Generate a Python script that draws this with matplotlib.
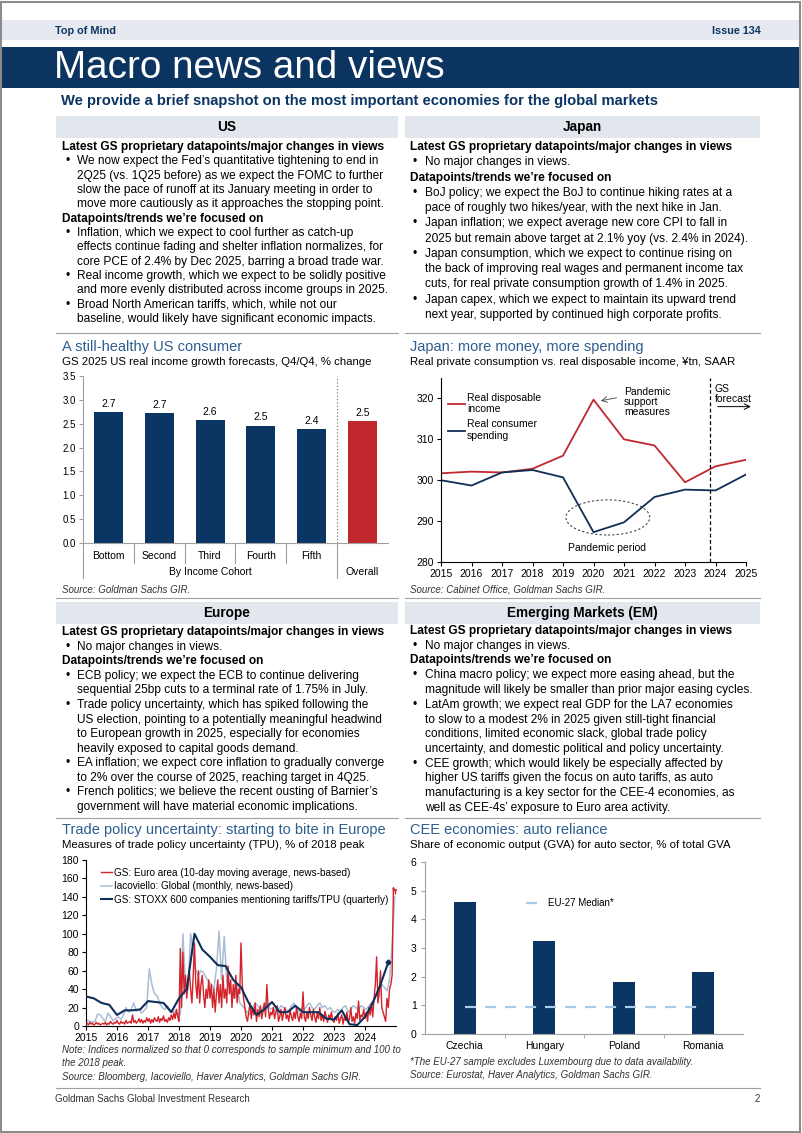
import matplotlib
matplotlib.use("Agg")
import matplotlib.pyplot as plt
from matplotlib.patches import Rectangle, Ellipse
from matplotlib.lines import Line2D
import numpy as np

# ---- data ----
us_cohorts = ["Bottom", "Second", "Third", "Fourth", "Fifth", "Overall"]
us_growth = [2.74, 2.72, 2.58, 2.46, 2.38, 2.55]
us_labels = ["2.7", "2.7", "2.6", "2.5", "2.4", "2.5"]

jp_years = [2015, 2016, 2017, 2018, 2019, 2020, 2021, 2022, 2023, 2024, 2025]
jp_income = [301.7, 302.1, 301.9, 302.8, 306.0, 319.7, 310.0, 308.5, 299.5, 303.4, 305.0]
jp_spending = [300.0, 298.7, 301.9, 302.5, 300.7, 287.3, 289.7, 295.9, 297.7, 297.5, 301.4]

# GS Euro area TPU, twice a month, 2015-2024
tpu_euro = [
    2, 3, 1, 4, 2, 3, 1, 2, 4, 2, 3, 1, 2, 3, 2, 4, 1, 3, 2, 5, 3, 2, 4, 3,
    6, 3, 2, 5, 3, 4, 2, 6, 3, 4, 5, 3, 12, 4, 6, 3, 5, 8, 4, 7, 3, 6, 4, 9,
    5, 8, 3, 7, 4, 9, 6, 5, 10, 4, 8, 6, 11, 5, 7, 4, 9, 6, 12, 7, 14, 8, 18, 10,
    5, 84, 20, 80, 35, 55, 30, 45, 60, 40, 25, 55, 90, 45, 30, 60, 25, 45, 55, 35, 20, 40, 30, 50,
    30, 45, 20, 40, 15, 35, 50, 25, 45, 20, 55, 30, 40, 25, 65, 35, 50, 20, 45, 30, 55, 25, 40, 35,
    90, 45, 30, 20, 10, 5, 15, 25, 8, 20, 12, 25, 5, 18, 10, 22, 8, 15, 25, 10, 45, 20, 8, 15,
    12, 20, 8, 15, 22, 5, 10, 18, 6, 14, 20, 8, 12, 5, 18, 10, 6, 15, 8, 20, 10, 5, 14, 8,
    37, 10, 5, 15, 8, 20, 12, 6, 18, 10, 4, 14, 8, 20, 6, 12, 5, 16, 10, 4, 12, 8, 15, 6,
    4, 10, 6, 14, 3, 8, 12, 2, 10, 6, 15, 4, 8, 20, 5, 10, 3, 14, 8, 27, 6, 12, 10, 18,
    8, 15, 5, 20, 12, 25, 10, 30, 45, 75, 25, 35, 60, 20, 15, 10, 5, 30, 20, 40, 45, 55, 150, 147,
]
# Iacoviello global TPU, monthly, 2015-2024
tpu_global = [
    6, 5, 4, 5, 13, 12, 8, 5, 14, 10, 6, 8,
    10, 7, 12, 20, 15, 18, 25, 16, 18, 14, 17, 20,
    62, 45, 35, 33, 25, 20, 18, 22, 18, 15, 16, 14,
    12, 100, 45, 40, 100, 80, 60, 55, 60, 58, 52, 48,
    45, 40, 62, 103, 50, 97, 48, 42, 35, 30, 45, 25,
    22, 18, 15, 12, 20, 25, 22, 18, 20, 25, 22, 18,
    20, 15, 18, 22, 20, 18, 15, 22, 25, 18, 15, 20,
    18, 22, 25, 20, 18, 22, 25, 20, 22, 18, 20, 16,
    15, 18, 15, 20, 22, 15, 18, 22, 20, 18, 22, 20,
    18, 22, 25, 30, 35, 40, 45, 42, 38, 50, 90, 140,
]
# STOXX 600 companies mentioning tariffs/TPU, quarterly 2015Q1-2024Q4
tpu_stoxx = [
    32, 30, 25, 23, 12, 17, 17, 18, 27, 26, 25, 15,
    30, 40, 100, 83, 75, 66, 65, 50, 42, 25, 12, 18,
    26, 15, 15, 22, 15, 15, 15, 8, 7, 17, 2, 1,
    10, 25, 45, 69,
]

cee_countries = ["Czechia", "Hungary", "Poland", "Romania"]
cee_auto_share = [4.62, 3.25, 1.82, 2.17]
eu27_median = 0.95

us_text = [
    "H:Latest GS proprietary datapoints/major changes in views",
    "* We now expect the Fed\u2019s quantitative tightening to end in",
    "  2Q25 (vs. 1Q25 before) as we expect the FOMC to further",
    "  slow the pace of runoff at its January meeting in order to",
    "  move more cautiously as it approaches the stopping point.",
    "H:Datapoints/trends we\u2019re focused on",
    "* Inflation, which we expect to cool further as catch-up",
    "  effects continue fading and shelter inflation normalizes, for",
    "  core PCE of 2.4% by Dec 2025, barring a broad trade war.",
    "* Real income growth, which we expect to be solidly positive",
    "  and more evenly distributed across income groups in 2025.",
    "* Broad North American tariffs, which, while not our",
    "  baseline, would likely have significant economic impacts.",
]
japan_text = [
    "H:Latest GS proprietary datapoints/major changes in views",
    "* No major changes in views.",
    "H:Datapoints/trends we\u2019re focused on",
    "* BoJ policy; we expect the BoJ to continue hiking rates at a",
    "  pace of roughly two hikes/year, with the next hike in Jan.",
    "* Japan inflation; we expect average new core CPI to fall in",
    "  2025 but remain above target at 2.1% yoy (vs. 2.4% in 2024).",
    "* Japan consumption, which we expect to continue rising on",
    "  the back of improving real wages and permanent income tax",
    "  cuts, for real private consumption growth of 1.4% in 2025.",
    "* Japan capex, which we expect to maintain its upward trend",
    "  next year, supported by continued high corporate profits.",
]
europe_text = [
    "H:Latest GS proprietary datapoints/major changes in views",
    "* No major changes in views.",
    "H:Datapoints/trends we\u2019re focused on",
    "* ECB policy; we expect the ECB to continue delivering",
    "  sequential 25bp cuts to a terminal rate of 1.75% in July.",
    "* Trade policy uncertainty, which has spiked following the",
    "  US election, pointing to a potentially meaningful headwind",
    "  to European growth in 2025, especially for economies",
    "  heavily exposed to capital goods demand.",
    "* EA inflation; we expect core inflation to gradually converge",
    "  to 2% over the course of 2025, reaching target in 4Q25.",
    "* French politics; we believe the recent ousting of Barnier\u2019s",
    "  government will have material economic implications.",
]
em_text = [
    "H:Latest GS proprietary datapoints/major changes in views",
    "* No major changes in views.",
    "H:Datapoints/trends we\u2019re focused on",
    "* China macro policy; we expect more easing ahead, but the",
    "  magnitude will likely be smaller than prior major easing cycles.",
    "* LatAm growth; we expect real GDP for the LA7 economies",
    "  to slow to a modest 2% in 2025 given still-tight financial",
    "  conditions, limited economic slack, global trade policy",
    "  uncertainty, and domestic political and policy uncertainty.",
    "* CEE growth; which would likely be especially affected by",
    "  higher US tariffs given the focus on auto tariffs, as auto",
    "  manufacturing is a key sector for the CEE-4 economies, as",
    "  well as CEE-4s\u2019 exposure to Euro area activity.",
]

# ---- style ----
NAVY = "#0b3563"
RED = "#c0282e"
LBLUE = "#a9bdd6"
TBLUE = "#2d5d8f"
HGRAY = "#e2e7ee"
LINEG = "#a0a0a0"
BODY = ["Liberation Sans", "DejaVu Sans"]
COND = ["Liberation Sans Narrow", "Liberation Sans", "DejaVu Sans"]
plt.rcParams["font.family"] = BODY

W, H = 802, 1133
fig = plt.figure(figsize=(W / 100, H / 100), dpi=100)


def fx(x):
    return x / W


def fy(y):
    return 1 - y / H


def add_ax(l, t, r, b):
    return fig.add_axes([l / W, 1 - b / H, (r - l) / W, (b - t) / H])


def rect(l, t, r, b, color):
    fig.patches.append(Rectangle((fx(l), fy(b)), (r - l) / W, (b - t) / H,
                                 transform=fig.transFigure, facecolor=color,
                                 edgecolor="none", zorder=0))


def hline(y, x0, x1, color=LINEG, lw=0.8):
    fig.add_artist(Line2D([fx(x0), fx(x1)], [fy(y), fy(y)], color=color, lw=lw,
                          transform=fig.transFigure))


def text_block(x, y0, y1, lines, size=8.6):
    step = (y1 - y0) / (len(lines) - 1)
    for i, s in enumerate(lines):
        y = fy(y0 + i * step)
        if s.startswith("H:"):
            fig.text(fx(x), y, s[2:], fontsize=size, weight="bold", va="center")
        elif s.startswith("*"):
            fig.text(fx(x + 3), y, "\u2022", fontsize=size, va="center")
            fig.text(fx(x + 15), y, s[2:], fontsize=size, va="center")
        else:
            fig.text(fx(x + 15), y, s[2:], fontsize=size, va="center")


def section_head(l, r, t, b, title):
    rect(l, t, r, b, HGRAY)
    fig.text(fx((l + r) / 2), fy((t + b) / 2), title, family=COND, weight="bold",
             fontsize=9.8, ha="center", va="center")


# page frame + header
fig.patches.append(Rectangle((0.001, 0.001), 0.997, 0.997, transform=fig.transFigure,
                             facecolor="none", edgecolor="#8c8c8c", lw=1.5))
rect(2, 20, 800, 40, "#e6e9ef")
fig.text(fx(55), fy(30.5), "Top of Mind", family=COND, weight="bold", fontsize=7.8,
         color=NAVY, va="center")
fig.text(fx(761), fy(30.5), "Issue 134", family=COND, weight="bold", fontsize=7.8,
         color=NAVY, va="center", ha="right")
rect(2, 47, 800, 88, "#0c3461")
fig.text(fx(54), fy(68), "Macro news and views", family=COND, fontsize=27.8,
         color="white", va="center")
fig.text(fx(61), fy(101), "We provide a brief snapshot on the most important economies for the global markets",
         family=COND, weight="bold", fontsize=10.6, color=NAVY, va="center")

# text sections
section_head(56, 398, 116, 138, "US")
section_head(405, 760, 116, 138, "Japan")
text_block(62, 147, 319, us_text)
text_block(410, 147, 315, japan_text)
hline(333, 56, 398)
hline(333, 405, 760)

section_head(56, 398, 602, 624, "Europe")
section_head(405, 760, 602, 624, "Emerging Markets (EM)")
text_block(62, 632, 807, europe_text)
text_block(410, 631, 808, em_text)
hline(598, 56, 398)
hline(598, 405, 760)
hline(818, 56, 398)
hline(818, 405, 760)
hline(1088, 56, 760)


def chart_titles(x, y, title, sub):
    fig.text(fx(x), fy(y), title, fontsize=10.5, color=TBLUE, va="center")
    fig.text(fx(x), fy(y + 15.5), sub, fontsize=8.2, va="center")


def note(x, y, s):
    fig.text(fx(x), fy(y), s, fontsize=7, style="italic", color="#333333", va="center")


# ---- US bar chart ----
chart_titles(62, 347, "A still-healthy US consumer",
             "GS 2025 US real income growth forecasts, Q4/Q4, % change")
ax = add_ax(83, 376, 388, 543)
xpos = np.arange(len(us_cohorts))
ax.bar(xpos, us_growth, width=0.57, color=[NAVY] * 5 + [RED])
for xi, v, lab in zip(xpos, us_growth, us_labels):
    ax.text(xi, v + 0.07, lab, ha="center", va="bottom", fontsize=7.5)
ax.set_xlim(-0.5, 5.5)
ax.set_ylim(0, 3.5)
ax.set_yticks(np.arange(0, 3.51, 0.5))
ax.set_yticklabels([f"{t:.1f}" for t in np.arange(0, 3.51, 0.5)], fontsize=7)
ax.set_xticks([])
ax.tick_params(axis="y", length=3, color=LINEG, pad=2)
for s in ["top", "right"]:
    ax.spines[s].set_visible(False)
for s in ["left", "bottom"]:
    ax.spines[s].set_color(LINEG)
ax.axvline(4.5, color="#666666", lw=0.8, ls=(0, (1, 2)))
tr = ax.get_xaxis_transform()
for xi, name in zip(xpos, us_cohorts):
    if name != "Overall":
        ax.text(xi, -0.075, name, transform=tr, ha="center", va="center", fontsize=7.5)
ax.text(2, -0.175, "By Income Cohort", transform=tr, ha="center", va="center", fontsize=7.5)
ax.text(5, -0.175, "Overall", transform=tr, ha="center", va="center", fontsize=7.5)
for xb in xpos[:-2] + 0.5:
    ax.plot([xb, xb], [0, -0.12], transform=tr, color=LINEG, lw=0.8, clip_on=False)
for xb in [-0.5, 4.5]:
    ax.plot([xb, xb], [0, -0.21], transform=tr, color=LINEG, lw=0.8, clip_on=False)
note(62, 590, "Source: Goldman Sachs GIR.")

# ---- Japan line chart ----
chart_titles(410, 347, "Japan: more money, more spending",
             "Real private consumption vs. real disposable income, \u00a5tn, SAAR")
ax2 = add_ax(441, 378, 746, 562)
ax2.plot(jp_years, jp_income, color=RED, lw=1.3, label="Real disposable\nincome")
ax2.plot(jp_years, jp_spending, color="#102d57", lw=1.3, label="Real consumer\nspending")
ax2.set_xlim(2015, 2025)
ax2.set_ylim(280, 325)
ax2.set_yticks(range(280, 321, 10))
ax2.set_xticks(jp_years)
ax2.tick_params(labelsize=7.5, length=3, pad=2)
for s in ["top", "right"]:
    ax2.spines[s].set_visible(False)
ax2.legend(loc="upper left", bbox_to_anchor=(0.0, 0.96), frameon=False, fontsize=7.5,
           handlelength=1.6, handletextpad=0.2, labelspacing=0.5, borderaxespad=0.3)
ax2.axvline(2023.83, color="black", lw=0.9, ls=(0, (3, 2)))
ax2.text(2023.98, 321.2, "GS\nforecast", fontsize=7.5, va="center", linespacing=1.0)
ax2.annotate("", xy=(2025.25, 318.0), xytext=(2023.98, 318.0),
             arrowprops=dict(arrowstyle="->", lw=0.7), annotation_clip=False)
ax2.text(2021.0, 319.2, "Pandemic\nsupport\nmeasures", fontsize=7.5, va="center", linespacing=1.0)
ax2.annotate("", xy=(2020.15, 319.3), xytext=(2020.85, 320.3),
             arrowprops=dict(arrowstyle="->", lw=0.6, color="#444444"))
ax2.add_patch(Ellipse((2020.47, 290.9), 2.75, 8.6, fill=False, ls=(0, (2, 2)),
                      edgecolor="#444444", lw=0.8))
ax2.text(2020.45, 283.4, "Pandemic period", fontsize=7.5, ha="center", va="center")
note(410, 590, "Source: Cabinet Office, Goldman Sachs GIR.")

# ---- Trade policy uncertainty ----
chart_titles(62, 830, "Trade policy uncertainty: starting to bite in Europe",
             "Measures of trade policy uncertainty (TPU), % of 2018 peak")
ax3 = add_ax(86, 860, 396, 1026)
x_euro = 2015 + np.arange(len(tpu_euro)) / 24
x_glob = 2015 + np.arange(len(tpu_global)) / 12 + 1 / 24
x_stoxx = 2015 + np.arange(len(tpu_stoxx)) * 0.25
ax3.plot(x_glob, tpu_global, color=LBLUE, lw=1.1,
         label="Iacoviello: Global (monthly, news-based)", zorder=2)
ax3.plot(x_euro, tpu_euro, color="#d2232a", lw=1.0, marker="1", markersize=6,
         markevery=[-1], label="GS: Euro area (10-day moving average, news-based)", zorder=3)
ax3.plot(x_stoxx, tpu_stoxx, color="#0d2f5a", lw=1.5, marker="D", markersize=2.5,
         markevery=[-1], label="GS: STOXX 600 companies mentioning tariffs/TPU (quarterly)", zorder=4)
h, l = ax3.get_legend_handles_labels()
order = [1, 0, 2]
ax3.legend([Line2D([], [], color=hh.get_color(), lw=hh.get_linewidth()) for hh in [h[i] for i in order]],
           [l[i] for i in order], loc="upper left", bbox_to_anchor=(0.03, 0.99), frameon=False,
           fontsize=7.2, handlelength=1.1, handletextpad=0.15, labelspacing=0.35, borderaxespad=0.2)
ax3.set_xlim(2015, 2025)
ax3.set_ylim(0, 180)
ax3.set_yticks(range(0, 181, 20))
ax3.set_xticks(range(2015, 2025))
ax3.tick_params(labelsize=7.5, length=3, pad=2)
for s in ["top", "right"]:
    ax3.spines[s].set_visible(False)
note(62, 1050, "Note: Indices normalized so that 0 corresponds to sample minimum and 100 to")
note(62, 1063, "the 2018 peak.")
note(62, 1077, "Source: Bloomberg, Iacoviello, Haver Analytics, Goldman Sachs GIR.")

# ---- CEE auto reliance ----
chart_titles(410, 830, "CEE economies: auto reliance",
             "Share of economic output (GVA) for auto sector, % of total GVA")
ax4 = add_ax(425, 862, 743, 1034)
cpos = np.arange(len(cee_countries))
ax4.bar(cpos, cee_auto_share, width=0.28, color=NAVY)
ax4.plot(cpos[[0, -1]], [eu27_median] * 2, color="#a9cbe8", lw=1.6, ls=(0, (5, 4)),
         label="EU-27 Median*")
ax4.legend(loc="upper left", bbox_to_anchor=(0.29, 0.84), frameon=False, fontsize=7,
           handlelength=2.0, handletextpad=0.3)
ax4.set_xlim(-0.5, 3.5)
ax4.set_ylim(0, 6)
ax4.set_yticks(range(0, 7))
ax4.set_xticks(cpos)
ax4.set_xticklabels(cee_countries, fontsize=7.5)
ax4.set_xticks(cpos[:-1] + 0.5, minor=True)
ax4.tick_params(axis="x", which="major", length=0, pad=5)
ax4.tick_params(axis="x", which="minor", length=3, color=LINEG)
ax4.tick_params(axis="y", labelsize=7.5, length=3, color=LINEG, pad=3)
for s in ["top", "right"]:
    ax4.spines[s].set_visible(False)
for s in ["left", "bottom"]:
    ax4.spines[s].set_color(LINEG)
note(410, 1062, "*The EU-27 sample excludes Luxembourg due to data availability.")
note(410, 1075, "Source: Eurostat, Haver Analytics, Goldman Sachs GIR.")

# footer
fig.text(fx(55), fy(1099), "Goldman Sachs Global Investment Research", fontsize=7, va="center",
         color="#333333")
fig.text(fx(760), fy(1099), "2", fontsize=7, va="center", ha="right", color="#333333")

fig.savefig("out.png", dpi=100)
